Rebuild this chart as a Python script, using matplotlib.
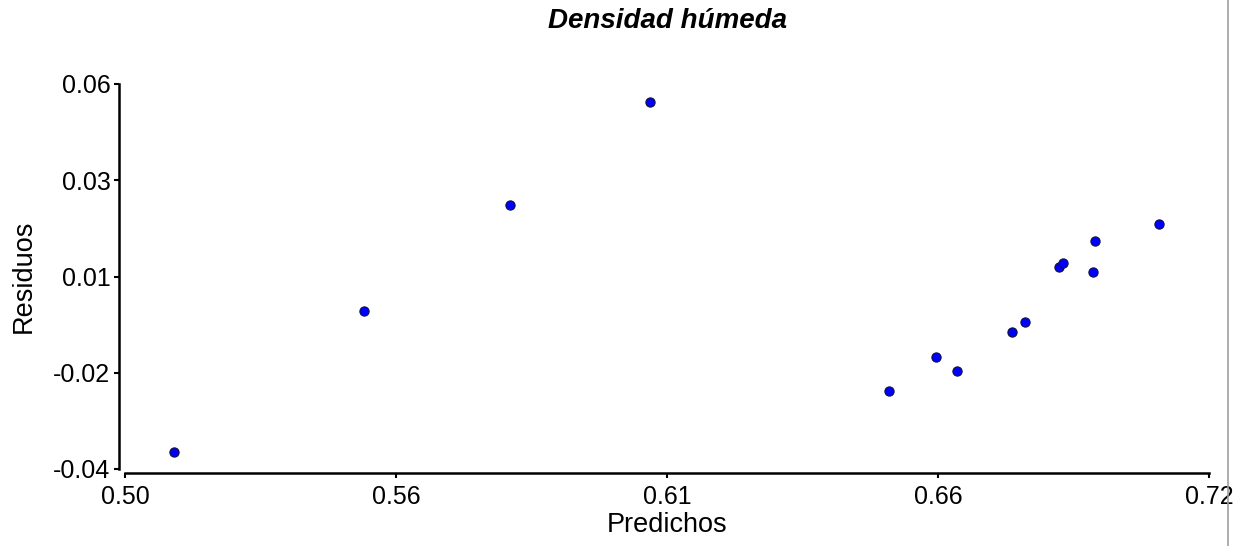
import matplotlib
matplotlib.use("Agg")
import matplotlib.pyplot as plt
from matplotlib.lines import Line2D

plt.rcParams['font.family'] = ['Liberation Sans', 'DejaVu Sans']

# predicted values vs residuals
predichos = [0.5099, 0.5486, 0.5781, 0.6066, 0.6551, 0.6646, 0.6689,
             0.6800, 0.6826, 0.6895, 0.6904, 0.6965, 0.6969, 0.7098]
residuos = [-0.0355, 0.0010, 0.0285, 0.0552, -0.0197, -0.0109, -0.0146,
            -0.0043, -0.0018, 0.0124, 0.0134, 0.0112, 0.0191, 0.0236]

x_ticks = [0.50, 0.555, 0.61, 0.665, 0.72]
x_labels = ["0.50", "0.56", "0.61", "0.66", "0.72"]
y_ticks = [-0.04, -0.015, 0.01, 0.035, 0.06]
y_labels = ["-0.04", "-0.02", "0.01", "0.03", "0.06"]

fig = plt.figure(figsize=(12.36, 5.46), dpi=100)
ax = fig.add_axes([125/1236, 77/546, 1084/1236, 385/546])

ax.scatter(predichos, residuos, s=44, c='#0000ff', edgecolors='#101040',
           linewidths=0.8, zorder=3)

ax.set_xlim(0.50, 0.72)
ax.set_ylim(-0.04, 0.06)
ax.set_xticks(x_ticks)
ax.set_xticklabels(x_labels)
ax.set_yticks(y_ticks)
ax.set_yticklabels(y_labels)

for side in ['top', 'right']:
    ax.spines[side].set_visible(False)
ax.spines['left'].set_position(('outward', 4))
ax.spines['bottom'].set_position(('outward', 3))
for side in ['left', 'bottom']:
    ax.spines[side].set_linewidth(1.8)

ax.tick_params(axis='both', direction='out', length=3.5, width=1.5,
               labelsize=18, pad=3)
ax.tick_params(axis='x', pad=5)

ax.set_xlabel('Predichos', fontsize=19.5, labelpad=2)
ax.set_ylabel('Residuos', fontsize=19.5, labelpad=12)
ax.set_title('Densidad húmeda', fontsize=20, fontweight='bold',
             fontstyle='italic', pad=40)

# thin grey border on the right edge
fig.add_artist(Line2D([1228/1236, 1228/1236], [0, 1], color='#a0a0a0',
                      linewidth=1.2, transform=fig.transFigure))

fig.savefig('out.png', dpi=100)
